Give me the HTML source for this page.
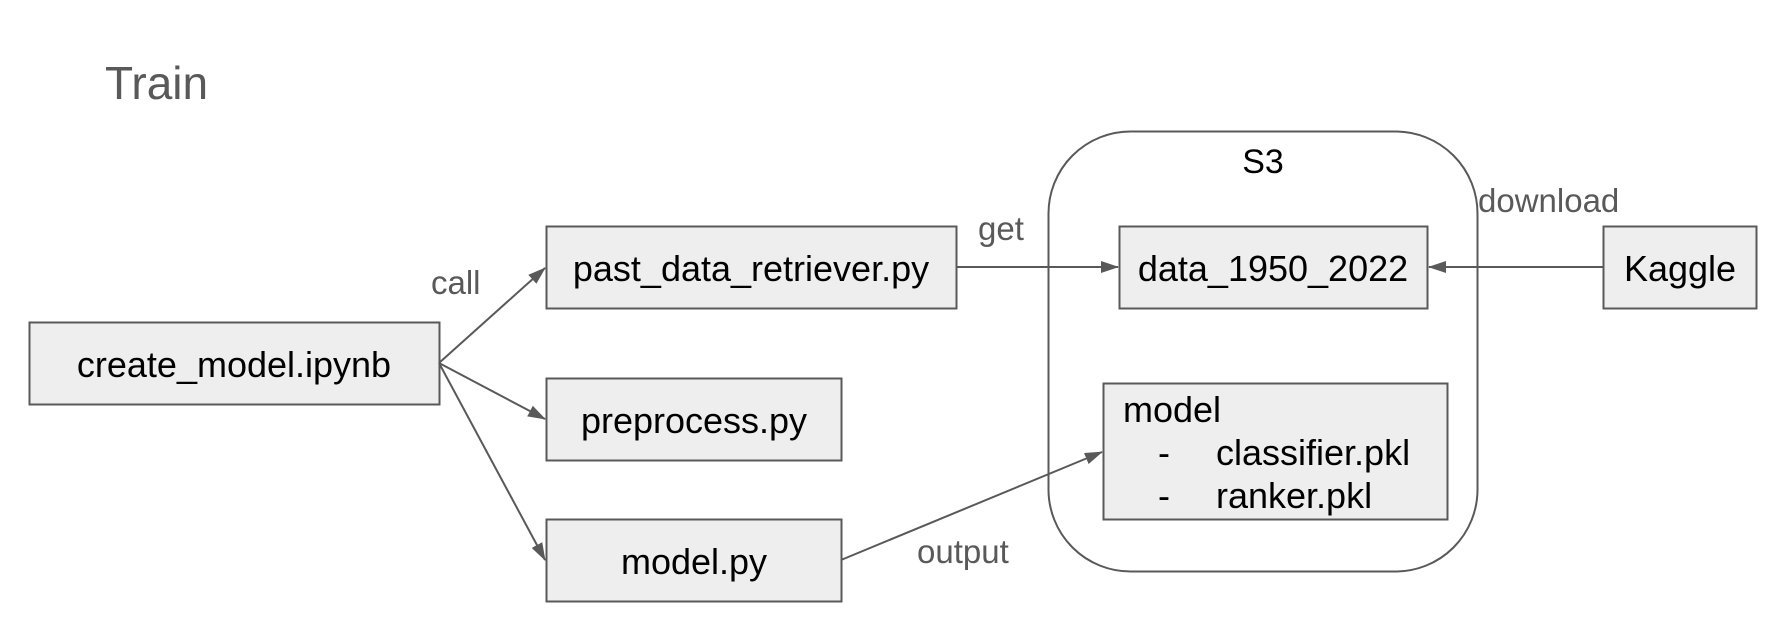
<!DOCTYPE html>
<html><head><meta charset="utf-8"><style>
html,body{margin:0;padding:0;background:#fff;}
svg{display:block;}
text{font-family:"Liberation Sans",Arial,sans-serif;}
</style></head><body>
<svg width="1780" height="624" viewBox="0 0 1780 624" xmlns="http://www.w3.org/2000/svg">
<defs>
<marker id="b" markerWidth="18" markerHeight="12" refX="17" refY="6" orient="auto" markerUnits="userSpaceOnUse" viewBox="0 0 18 12">
<path d="M0,0 L18,6 L0,12 z" fill="#595959"/>
</marker>
</defs>
<text x="105" y="99" font-size="46" fill="#595959">Train</text>

<rect x="1048.5" y="131.5" width="429" height="440" rx="82" fill="none" stroke="#595959" stroke-width="2"/>
<text x="1263" y="173" font-size="34" fill="#000" text-anchor="middle">S3</text>

<g fill="#eeeeee" stroke="#595959" stroke-width="2">
<rect x="29.5" y="322.5" width="410" height="82"/>
<rect x="546.5" y="226.5" width="410" height="82"/>
<rect x="546.5" y="378.5" width="295" height="82"/>
<rect x="546.5" y="519.5" width="295" height="82"/>
<rect x="1119.5" y="226.5" width="308" height="82"/>
<rect x="1103.5" y="383.5" width="344" height="136"/>
<rect x="1603.5" y="226.5" width="153" height="82"/>
</g>

<g font-size="36" fill="#000" text-anchor="middle">
<text x="234" y="377">create_model.ipynb</text>
<text x="751" y="281">past_data_retriever.py</text>
<text x="694" y="433">preprocess.py</text>
<text x="694" y="574">model.py</text>
<text x="1273" y="281">data_1950_2022</text>
<text x="1680" y="281">Kaggle</text>
</g>
<g font-size="36" fill="#000">
<text x="1123" y="422">model</text>
<text x="1158" y="465">-</text>
<text x="1216" y="465">classifier.pkl</text>
<text x="1158" y="508">-</text>
<text x="1216" y="508">ranker.pkl</text>
</g>

<g stroke="#595959" stroke-width="2" fill="none">
<line x1="439" y1="363" x2="545" y2="268" marker-end="url(#b)"/>
<line x1="439" y1="363" x2="545" y2="419" marker-end="url(#b)"/>
<line x1="439" y1="363" x2="545" y2="560" marker-end="url(#b)"/>
<line x1="956" y1="267" x2="1118" y2="267" marker-end="url(#b)"/>
<line x1="1603" y1="267" x2="1429" y2="267" marker-end="url(#b)"/>
<line x1="841" y1="560" x2="1102" y2="452" marker-end="url(#b)"/>
</g>

<g font-size="33" fill="#595959">
<text x="431" y="294">call</text>
<text x="978" y="240">get</text>
<text x="1478" y="212">download</text>
<text x="917" y="563">output</text>
</g>
</svg>
</body></html>
